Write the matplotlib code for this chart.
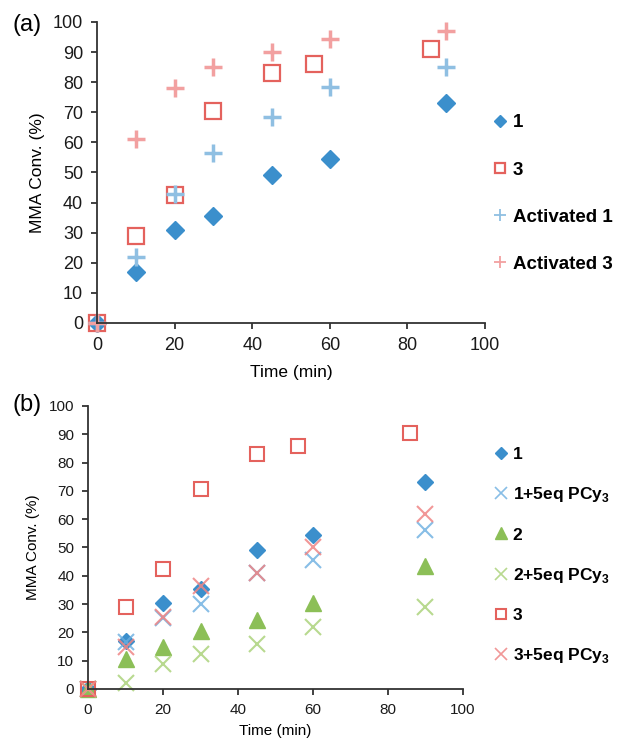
import matplotlib
matplotlib.use("Agg")
import matplotlib.pyplot as plt

plt.rcParams['font.family'] = ['Liberation Sans', 'DejaVu Sans']
plt.rcParams['mathtext.fontset'] = 'custom'
plt.rcParams['mathtext.rm'] = 'Liberation Sans'
plt.rcParams['mathtext.bf'] = 'Liberation Sans:bold'

# panel (a)
t_a = [0, 10, 20, 30, 45, 60, 90]
conv_1 = [0, 17, 31, 35.5, 49, 54.5, 73]
t_3 = [0, 10, 20, 30, 45, 56, 86]
conv_3 = [0, 29, 42.5, 70.5, 83, 86, 91]
conv_act1 = [0, 22, 43, 56.5, 68.5, 78.5, 85]
conv_act3 = [0, 61, 78, 85, 90, 94.5, 97]

# panel (b)
t_b = [0, 10, 20, 30, 45, 60, 90]
b_1 = [0, 17, 30.5, 35.5, 49, 54.5, 73]
b_1p = [0, 16.5, 25, 30, 41, 45.5, 56]
b_2 = [0, 10.5, 15, 20.5, 24.5, 30.5, 43.5]
b_2p = [0, 2, 9, 12.5, 16, 22, 29]
b_3 = [0, 29, 42.5, 70.5, 83, 86, 90.5]
b_3p = [0, 15, 25.5, 36.5, 41, 50, 62]

ticks = [0, 20, 40, 60, 80, 100]
yticks = list(range(0, 101, 10))

BLUE = '#3b8fcc'
LBLUE = '#8fbfe2'
RED = '#e4625d'
LRED = '#f2a0a0'
GREEN = '#8cbf57'
LGREEN = '#b8d98f'
XRED = '#ef8585'
XBLUE = '#6aaee0'
AXC = '#333333'

fig = plt.figure(figsize=(6.27, 7.43), dpi=100)


def style_axes(ax, fs):
    for s in ['top', 'right']:
        ax.spines[s].set_visible(False)
    for s in ['left', 'bottom']:
        ax.spines[s].set_color(AXC)
        ax.spines[s].set_linewidth(1.3)
    ax.set_xlim(0, 100)
    ax.set_ylim(0, 100)
    ax.set_xticks(ticks)
    ax.set_yticks(yticks)
    ax.tick_params(direction='out', length=4, width=1.3, color=AXC,
                   labelsize=fs, labelcolor='#1a1a1a', pad=6)


ax1 = fig.add_axes([0.1547, 0.5653, 0.6188, 0.4051])
ax1.plot(t_a, conv_1, 'D', color=BLUE, ms=9, label='1', clip_on=False)
ax1.plot(t_3, conv_3, 's', mfc='none', mec=RED, mew=1.6, ms=11, label='3', clip_on=False)
ax1.plot(t_a, conv_act1, '+', color=LBLUE, ms=13, mew=2.5, label='Activated 1', clip_on=False)
ax1.plot(t_a, conv_act3, '+', color=LRED, ms=13, mew=2.5, label='Activated 3', clip_on=False)
style_axes(ax1, 13)
ax1.set_xlabel('Time (min)', fontsize=12.5, labelpad=8)
ax1.set_ylabel('MMA Conv. (%)', fontsize=12.5, labelpad=6)
fig.text(0.02, 0.966, '(a)', fontsize=17, va='center')
leg1 = ax1.legend(loc='center left', bbox_to_anchor=(0.975, 0.43), frameon=False,
                  prop={'weight': 'bold', 'size': 13.5}, handlelength=0.8,
                  handletextpad=0.3, labelspacing=1.6, markerscale=0.7)
for h in leg1.legend_handles[2:]:
    h.set_markeredgewidth(1.3)

ax2 = fig.add_axes([0.1404, 0.0727, 0.598, 0.3809])
ax2.plot(t_b, b_1, 'D', color=BLUE, ms=8, label='1', clip_on=False)
ax2.plot(t_b, b_1p, 'x', color=XBLUE, ms=11, mew=1.5, alpha=0.8, label=r'1+5eq PCy$_\mathbf{3}$', clip_on=False)
ax2.plot(t_b, b_2, '^', color=GREEN, ms=11, label='2', clip_on=False)
ax2.plot(t_b, b_2p, 'x', color=LGREEN, ms=11, mew=1.5, label=r'2+5eq PCy$_\mathbf{3}$', clip_on=False)
ax2.plot(t_3, b_3, 's', mfc='none', mec=RED, mew=1.5, ms=10, label='3', clip_on=False)
ax2.plot(t_b, b_3p, 'x', color=XRED, ms=11, mew=1.5, alpha=0.85, label=r'3+5eq PCy$_\mathbf{3}$', clip_on=False)
style_axes(ax2, 11)
ax2.set_xlabel('Time (min)', fontsize=11, labelpad=5)
ax2.set_ylabel('MMA Conv. (%)', fontsize=11, labelpad=6)
fig.text(0.02, 0.455, '(b)', fontsize=17, va='center')
leg2 = ax2.legend(loc='center left', bbox_to_anchor=(1.04, 0.47), frameon=False,
                  prop={'weight': 'bold', 'size': 12.5}, handlelength=0.8,
                  handletextpad=0.3, labelspacing=1.33, markerscale=0.75)
for h in leg2.legend_handles:
    if h.get_marker() == 'x':
        h.set_markeredgewidth(1.2)

fig.savefig('out.png', dpi=100)
